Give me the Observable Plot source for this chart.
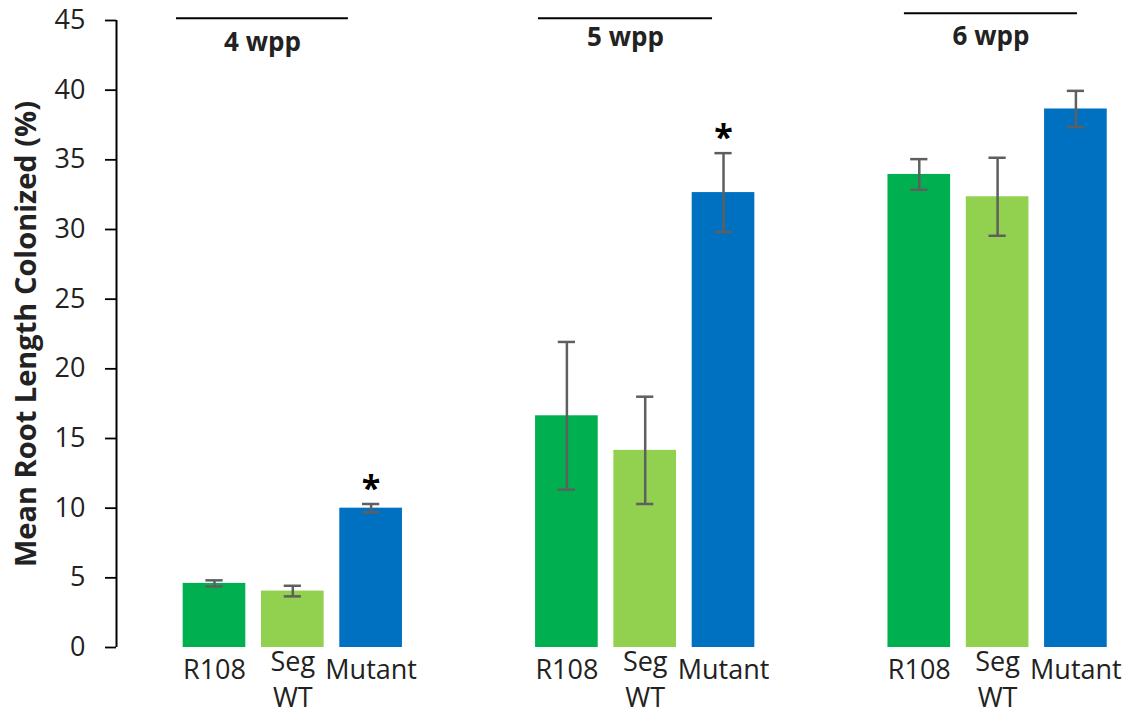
<!DOCTYPE html>
<html>
<head>
<meta charset="utf-8">
<script src="https://cdn.jsdelivr.net/npm/d3@7"></script>
<script src="https://cdn.jsdelivr.net/npm/@observablehq/plot@0.6"></script>
<style>
  html, body { margin: 0; padding: 0; background: #fff; overflow: hidden; }
  #chart { width: 1133px; height: 715px; }
</style>
</head>
<body>
<div id="chart"></div>
<script>
// ---- data ----
const groups = ["4 wpp", "5 wpp", "6 wpp"];
const genotypes = ["R108", "Seg\nWT", "Mutant"];
const meanR108 = [4.6, 16.63, 33.95];
const errR108  = [0.22, 5.3, 1.1];
const meanSeg  = [4.05, 14.15, 32.35];
const errSeg   = [0.38, 3.85, 2.8];
const meanMut  = [10.0, 32.65, 38.65];
const errMut   = [0.3, 2.83, 1.3];
const starMut  = [true, true, false];
const yTicks = [0, 5, 10, 15, 20, 25, 30, 35, 40, 45];
const yLabel = "Mean Root Length Colonized (%)";

// ---- layout (annotation placement for the group headers) ----
const headerSpan = [[-0.485, 1.71], [-0.363, 1.86], [-0.19, 2.02]]; // in bar slots
const headerLineY = [45.165, 45.165, 45.52];
const headerTextY = [43.39, 43.78, 43.87];

const colors = ["#00B050", "#92D050", "#0070C0"];
const means = [meanR108, meanSeg, meanMut];
const errs = [errR108, errSeg, errMut];
const slotsPerGroup = genotypes.length + 1.5;

const rows = [];
groups.forEach((grp, g) => {
  genotypes.forEach((gen, s) => {
    rows.push({
      group: grp, genotype: gen, g, s,
      pos: g * slotsPerGroup + s,
      mean: means[s][g], err: errs[s][g],
      star: s === 2 && starMut[g]
    });
  });
});

// category labels split into lines
const labelLines = rows.flatMap(d => {
  const parts = d.genotype.split("\n");
  return parts.map((t, i) => ({ pos: d.pos, text: t, line: i, n: parts.length }));
});

const headers = groups.map((grp, g) => ({
  label: grp,
  x1: g * slotsPerGroup + headerSpan[g][0],
  x2: g * slotsPerGroup + headerSpan[g][1],
  ly: headerLineY[g],
  ty: headerTextY[g]
}));

const W = 1133, H = 715;
const mL = 116, mR = 13, mT = 20, mB = 68;
const unit = 78.31; // px per bar slot
const xMin = -(214 - mL) / unit;
const xMax = xMin + (W - mL - mR) / unit;
const half = 0.4, cap = 0.11;
const font = "Open Sans";
const ink = "#222";

const chart = Plot.plot({
  width: W, height: H,
  marginLeft: mL, marginRight: mR, marginTop: mT, marginBottom: mB,
  style: { fontFamily: font, fontSize: "27px", color: ink, background: "#fff" },
  x: { domain: [xMin, xMax], axis: null },
  y: { domain: [0, 45] },
  color: { domain: genotypes, range: colors },
  marks: [
    Plot.axisY({ ticks: yTicks, tickSize: 11, tickPadding: 20, label: null,
                 fontSize: 27, stroke: "#000", strokeWidth: 1.8, fill: ink }),
    Plot.ruleX([xMin], { y1: 0, y2: 45, stroke: "#000", strokeWidth: 2 }),
    Plot.text([yLabel], { frameAnchor: "left", textAnchor: "middle", rotate: -90, dx: -90,
                          fontWeight: "bold", fontSize: 29, fill: ink }),
    Plot.rectY(rows, { x1: d => d.pos - half, x2: d => d.pos + half, y1: 0, y2: "mean", fill: "genotype" }),
    Plot.ruleX(rows, { x: "pos", y1: d => d.mean - d.err, y2: d => d.mean + d.err, stroke: "#5f5f5f", strokeWidth: 2.5 }),
    Plot.ruleY(rows, { y: d => d.mean + d.err, x1: d => d.pos - cap, x2: d => d.pos + cap, stroke: "#5f5f5f", strokeWidth: 2.5 }),
    Plot.ruleY(rows, { y: d => d.mean - d.err, x1: d => d.pos - cap, x2: d => d.pos + cap, stroke: "#5f5f5f", strokeWidth: 2.5 }),
    Plot.text(rows.filter(d => d.star), { x: "pos", y: d => d.mean + d.err, text: () => "*", dy: -15,
                                           fontWeight: "bold", fontSize: 34, fill: "#000" }),
    Plot.text(labelLines.filter(d => d.n === 1), { x: "pos", y: 0, text: "text",
                lineAnchor: "top", dy: 12, fontSize: 27, fill: ink }),
    Plot.text(labelLines.filter(d => d.n > 1 && d.line === 0), { x: "pos", y: 0, text: "text",
                lineAnchor: "top", dy: 4, fontSize: 27, fill: ink }),
    Plot.text(labelLines.filter(d => d.n > 1 && d.line === 1), { x: "pos", y: 0, text: "text",
                lineAnchor: "top", dy: 40, fontSize: 27, fill: ink }),
    Plot.ruleY(headers, { y: "ly", x1: "x1", x2: "x2", stroke: "#000", strokeWidth: 2 }),
    Plot.text(headers, { x: d => (d.x1 + d.x2) / 2, y: "ty", text: "label",
                         fontWeight: "bold", fontSize: 26, fill: ink })
  ]
});
document.getElementById("chart").appendChild(chart);
</script>
</body>
</html>
